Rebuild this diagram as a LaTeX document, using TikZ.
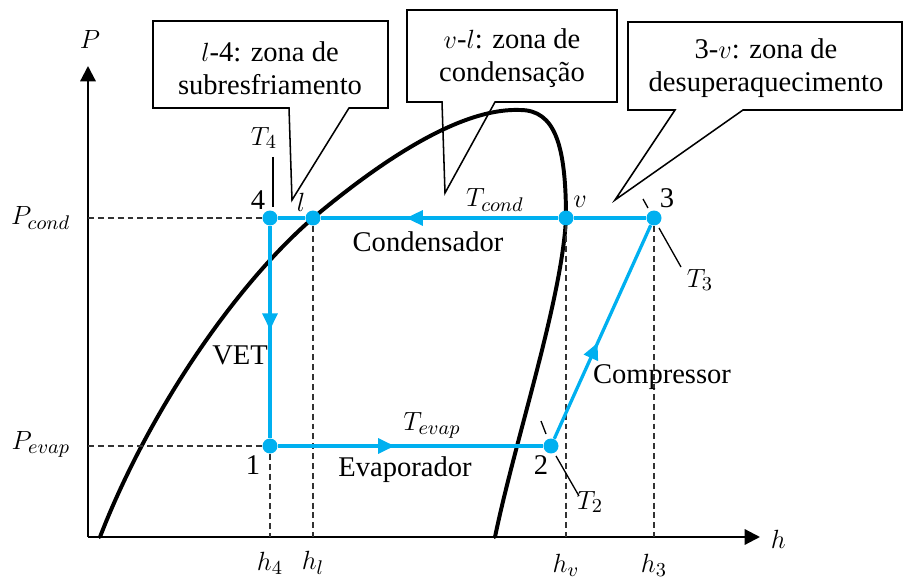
\documentclass[tikz,border=0pt]{standalone}
\usepackage{fontspec}
\setmainfont{Liberation Serif}
\usepackage{tikz}
\usetikzlibrary{arrows.meta, decorations.markings}
\definecolor{cycleblue}{HTML}{00B0F0}
\def\u{0.016cm}
\def\dotSize{0.24}
\newcommand{\callout}[7]{%
% #1 = left, #2 = top, #3 = right, #4 = bottom
% #5 = pointer start (x), #6 = pointer tip, #7 = pointer end (x)
\fill[white] (#1,#2) rectangle (#3,#4);
\draw[line width=0.7pt]
(#1,#4) -- (#5,#4) -- (#6) -- (#7,#4) -- (#3,#4)
-- (#3,#2) -- (#1,#2) -- cycle;
}

\begin{document}
\begin{tikzpicture}[
    x=\u, y=-\u,
    font=\fontsize{13}{15}\selectfont,
    >={Triangle[length=7pt,width=7pt]},
    axis/.style={line width=1pt, ->},
    helpline/.style={dash pattern=on 2.7pt off 1.8pt, line width=0.8pt, black!80},
    satcurve/.style={line width=1.8pt, line cap=round},
    cycleline/.style={draw=cycleblue, line width=1.5pt},
    midarrow/.style={postaction={decorate}, decoration={markings,
        mark=at position #1 with {\arrow{Triangle[length=7.5pt,width=6.8pt]}}}},
    dot/.style={circle, fill=cycleblue, inner sep=0pt, minimum size=\dotSize cm},
    isotherm/.style={line width=0.6pt}
]
\useasboundingbox (0,0) rectangle (910,577);

% axes
\coordinate (o) at (88,537);
\coordinate (ytip) at (88,66);
\coordinate (xtip) at (760,537);
\draw[axis] (o) -- (ytip);
\draw[axis] (o) -- (xtip);
\node (P) at (90,40) {$P$};
\node[anchor=west] (h) at (763,539) {$h$};

% saturation dome
\draw[satcurve] (100,537)
    .. controls (145,420) and (230,290) .. (313,218)
    .. controls (400,145) and (470,108) .. (520,110)
    .. controls (555,110) and (566,145) .. (566,218)
    .. controls (562,300) and (515,440) .. (495,537);

% cycle states
\node[dot] (p4) at (270,218) {};
\node[dot] (pl) at (313,218) {};
\node[dot] (pv) at (566,218) {};
\node[dot] (p3) at (654,218) {};
\node[dot] (p1) at (270,446) {};
\node[dot] (p2) at (551,446) {};

% reference lines
\coordinate (Pc) at (88,218);
\coordinate (Pe) at (88,446);
\coordinate (h4) at (270,537);
\coordinate (hl) at (313,537);
\coordinate (hv) at (566,537);
\coordinate (h3) at (654,537);
\draw[helpline] (Pc) -- (p4);
\draw[helpline] (Pe) -- (p1);
\draw[helpline] (p1) -- (h4);
\draw[helpline] (pl) -- (hl);
\draw[helpline] (pv) -- (hv);
\draw[helpline] (p3) -- (h3);
\node[anchor=east] at (78,218) {$P_{cond}$};
\node[anchor=east] at (78,444) {$P_{evap}$};
\node at (270,563) {$h_4$};
\node at (313,563) {$h_l$};
\node at (566,565) {$h_v$};
\node at (654,565) {$h_3$};

% refrigeration cycle
\draw[cycleline] (p3) -- (pv);
\draw[cycleline, midarrow=0.64] (pv) -- (pl);
\draw[cycleline] (pl) -- (p4);
\draw[cycleline, midarrow=0.49] (p4) -- (p1);
\draw[cycleline, midarrow=0.44] (p1) -- (p2);
\draw[cycleline, midarrow=0.45] (p2) -- (p3);

% isotherm marks
\draw[isotherm] (273,157) -- (273,207);
\draw[isotherm] (643,199) -- (648,208) (659,228) -- (681,267);
\draw[isotherm] (541,421) -- (546,434) (556,456) -- (579,496);
\node at (264,138) {$T_4$};
\node at (700,280) {$T_3$};
\node at (590,502) {$T_2$};

% state labels
\node at (258,200) {4};
\node at (301,202) {$l$};
\node at (580,202) {$v$};
\node at (667,198) {3};
\node at (253,465) {1};
\node at (541,465) {2};

% component labels
\node at (495,200) {$T_{cond}$};
\node at (428,242) {Condensador};
\node at (432,425) {$T_{evap}$};
\node at (405,470) {Evaporador};
\node at (240,355) {VET};
\node at (662,377) {Compressor};

% callouts
\callout{153}{21}{388}{108}{289}{292,200}{349}
\callout{407}{10}{617}{102}{442}{445,193}{495}
\callout{628}{22}{902}{110}{675}{615,200}{743}
\node[align=center] (zsub) at (270,68) {$l$-4: zona de\\subresfriamento};
\node[align=center] (zcond) at (512,58) {$v$-$l$: zona de\\condensação};
\node[align=center] (zdesup) at (766,68) {3-$v$: zona de\\desuperaquecimento};
\end{tikzpicture}
\end{document}
